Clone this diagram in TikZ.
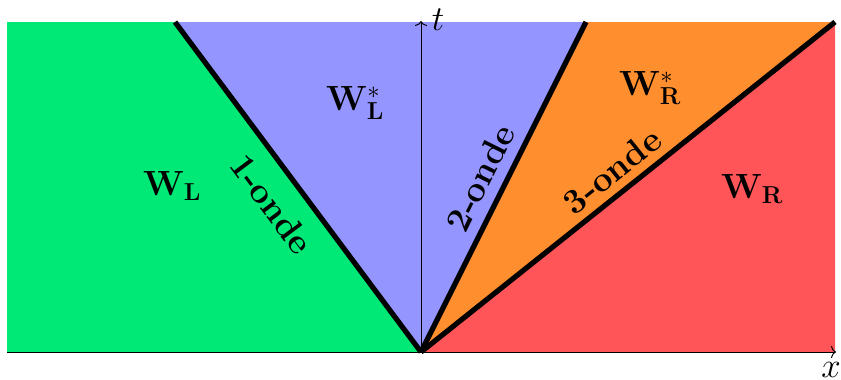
\RequirePackage{fix-cm}
\documentclass[tikz,border=0pt]{standalone}
\usepackage{amsmath}
\usetikzlibrary{arrows.meta}
\definecolor{cgreen}{RGB}{0,232,118}
\definecolor{cblue}{RGB}{149,149,255}
\definecolor{corange}{RGB}{255,142,46}
\definecolor{cred}{RGB}{255,85,88}
\tikzset{
  lbl/.style={font=\fontsize{35}{40}\selectfont, inner sep=0pt},
  wave/.style={line width=5.2pt},
  axis/.style={line width=1pt, -{To[length=5pt,width=12pt]}},
}
\begin{document}
\begin{tikzpicture}[x=1pt,y=-1pt]
\useasboundingbox (0,0) rectangle (841,380);
\coordinate (O) at (421,352);
\coordinate (A) at (175,22);
\coordinate (B) at (586,22);
\coordinate (C) at (835,22);
\coordinate (TL) at (7,22);
\coordinate (BL) at (7,352);
\coordinate (BR) at (835,352);
\coordinate (XE) at (836,352);
\coordinate (TE) at (421,21);
\fill[cgreen] (TL) -- (A) -- (O) -- (BL) -- cycle;
\fill[cblue] (A) -- (B) -- (O) -- cycle;
\fill[corange] (B) -- (C) -- (O) -- cycle;
\fill[cred] (C) -- (BR) -- (O) -- cycle;
\draw[axis] (BL) -- (XE);
\draw[axis] (O) -- (TE);
\node[lbl] (xl) at (831,370) {$x$};
\node[lbl] (tl) at (438,20) {$t$};
\draw[wave] (O) -- (A);
\draw[wave] (O) -- (B);
\draw[wave] (O) -- (C);
\node[lbl, rotate=-53.2] (w1) at (272,204) {\textbf{1-onde}};
\node[lbl, rotate=63.6] (w2) at (480,178) {\textbf{2-onde}};
\node[lbl, rotate=38.7] (w3) at (612,171) {\textbf{3-onde}};
\node[lbl] (WL) at (172,186) {$\mathbf{W}_\mathbf{L}$};
\node[lbl] (WLs) at (355,103) {$\mathbf{W}_\mathbf{L}^*$};
\node[lbl] (WRs) at (650,88) {$\mathbf{W}_\mathbf{R}^*$};
\node[lbl] (WR) at (752,189) {$\mathbf{W}_\mathbf{R}$};
\end{tikzpicture}
\end{document}
